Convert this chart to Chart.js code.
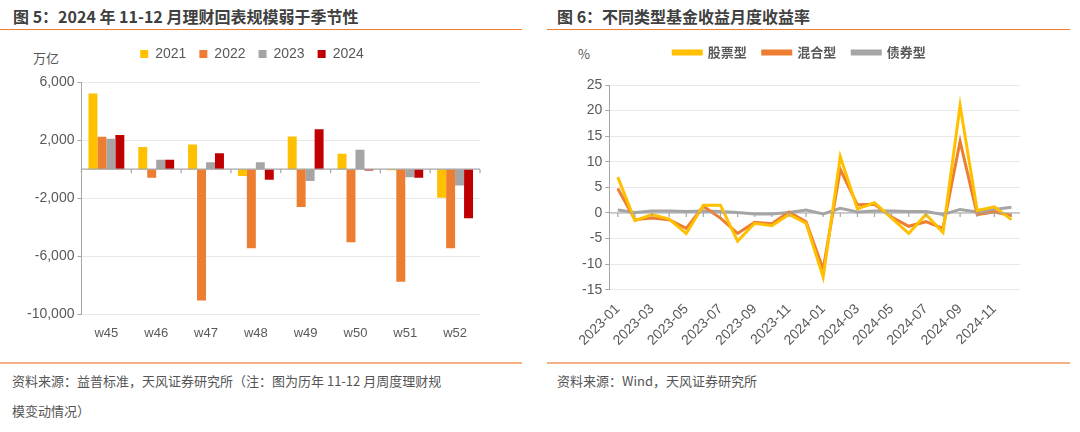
<!DOCTYPE html>
<html><head><meta charset="utf-8">
<script src="https://cdn.jsdelivr.net/npm/chart.js@4"></script>
<style>
body{margin:0;width:1080px;height:432px;background:#fff;position:relative;overflow:hidden;font-family:"Liberation Sans","Noto Sans CJK SC",sans-serif;}
.t{position:absolute;top:4px;font-weight:bold;font-size:16px;color:#404040;font-family:"Noto Sans CJK SC",sans-serif;}
.rule{position:absolute;height:1px;}
.src{position:absolute;font-size:13px;color:#555;font-family:"Noto Sans CJK SC",sans-serif;line-height:30px;}
.unit{position:absolute;font-size:13px;color:#555;font-family:"Noto Sans CJK SC",sans-serif;}
canvas{position:absolute;}
</style></head><body>
<div class="t" style="left:13px">图 5：2024 年 11-12 月理财回表规模弱于季节性</div>
<div class="t" style="left:557px">图 6：不同类型基金收益月度收益率</div>
<div class="rule" style="left:0;top:29px;width:522px;background:#ed7d31"></div>
<div class="rule" style="left:547px;top:29px;width:523px;background:#ed7d31"></div>
<div class="rule" style="left:0;top:362px;width:522px;background:#f4b183;height:2px"></div>
<div class="rule" style="left:547px;top:362px;width:523px;background:#f4b183;height:2px"></div>
<div class="src" style="left:12px;top:366px;width:520px">资料来源：益普标准，天风证券研究所（注：图为历年 11-12 月周度理财规<br>模变动情况）</div>
<div class="src" style="left:557px;top:366px">资料来源：Wind，天风证券研究所</div>
<div class="unit" style="left:33px;top:48px">万亿</div>
<div class="unit" style="left:578px;top:44px">%</div>
<canvas id="c1" style="left:0;top:34px;width:530px;height:310px" width="530" height="310"></canvas>
<canvas id="c2" style="left:545px;top:30px;width:530px;height:322px" width="530" height="322"></canvas>
<script>
const weeks = ["w45","w46","w47","w48","w49","w50","w51","w52"];
const y2021 = [5200,1530,1700,-470,2250,1060,-80,-1970];
const y2022 = [2230,-600,-9050,-5450,-2600,-5030,-7750,-5450];
const y2023 = [2100,650,470,470,-820,1340,-560,-1130];
const y2024 = [2350,650,1100,-730,2750,-100,-590,-3380];
const leftTicks = [-10000,-6000,-2000,2000,6000];

const months = ["2023-01","2023-02","2023-03","2023-04","2023-05","2023-06","2023-07","2023-08","2023-09","2023-10","2023-11","2023-12",
  "2024-01","2024-02","2024-03","2024-04","2024-05","2024-06","2024-07","2024-08","2024-09","2024-10","2024-11","2024-12"];
const stockFund = [7,-1.5,-0.3,-1.2,-4,1.5,1.5,-5.5,-2,-2.5,-0.3,-2,-12.5,11,0.8,2,-1,-4,-0.3,-3.8,21,0.5,1.2,-1.3];
const mixedFund = [4.8,-1.3,-1,-1.3,-3,1.3,-1,-4,-1.8,-2.1,0.2,-1.7,-11,8.5,1.6,1.7,-0.8,-2.6,-1.7,-3,14,-0.3,0.2,-0.5];
const bondFund = [0.6,0.1,0.4,0.4,0.3,0.4,0.3,0.1,-0.2,-0.2,0.1,0.6,-0.2,0.9,0.2,0.4,0.4,0.3,0.3,-0.3,0.7,0.2,0.7,1.1];

const font = {family:"Liberation Sans, Noto Sans CJK SC", size:13};
const bigFont = {family:"Liberation Sans, Noto Sans CJK SC", size:14};
Chart.defaults.color = "#595959";
Chart.defaults.animation = false;

// zero line with category tick marks
const zeroLine = {
  id:"zeroLine",
  afterDatasetsDraw(chart, args, opts) {
    const {ctx, scales:{x,y}} = chart;
    const py = y.getPixelForValue(0);
    ctx.save();
    ctx.strokeStyle = "#a6a6a6"; ctx.lineWidth = 1.2;
    ctx.beginPath(); ctx.moveTo(x.left, py); ctx.lineTo(x.right, py);
    const n = chart.data.labels.length;
    for (let i = 0; i <= n; i++) {
      const px = opts.between ? x.left + (x.right - x.left) * i / n : x.getPixelForValue(i);
      if (opts.between || i < n) { ctx.moveTo(px, py); ctx.lineTo(px, py + 4); }
    }
    ctx.stroke(); ctx.restore();
  }
};

// extra gap under the legend
const legendGap = gap => ({
  id:"legendGap",
  afterInit(chart) {
    const fit = chart.legend.fit;
    chart.legend.fit = function() { fit.call(this); this.height += gap; };
  }
});

new Chart(document.getElementById("c1"), {
  type:"bar",
  data:{labels:weeks, datasets:[
    {label:"2021", data:y2021, backgroundColor:"#ffc000"},
    {label:"2022", data:y2022, backgroundColor:"#ed7d31"},
    {label:"2023", data:y2023, backgroundColor:"#a5a5a5"},
    {label:"2024", data:y2024, backgroundColor:"#c00000"}
  ]},
  options:{
    responsive:false,
    layout:{padding:{left:24,right:50,top:0,bottom:0}},
    datasets:{bar:{categoryPercentage:0.72, barPercentage:1}},
    scales:{
      x:{grid:{display:false}, border:{display:false}, ticks:{font}},
      y:{min:-10000, max:6000,
        afterBuildTicks(s){ s.ticks = leftTicks.map(v => ({value:v})); },
        grid:{color:"#e8e8e8", drawTicks:true, tickLength:4, tickColor:"#a6a6a6"},
        border:{color:"#a6a6a6"},
        ticks:{font:bigFont, callback:v => v.toLocaleString("en-US")}}
    },
    plugins:{
      legend:{position:"top", labels:{boxWidth:8, boxHeight:8, font:bigFont, padding:13}},
      tooltip:{enabled:false},
      zeroLine:{between:true}
    }
  },
  plugins:[zeroLine, legendGap(11)]
});

new Chart(document.getElementById("c2"), {
  type:"line",
  data:{labels:months, datasets:[
    {label:"股票型", data:stockFund, borderColor:"#ffc000", backgroundColor:"#ffc000"},
    {label:"混合型", data:mixedFund, borderColor:"#ed7d31", backgroundColor:"#ed7d31"},
    {label:"债券型", data:bondFund, borderColor:"#a5a5a5", backgroundColor:"#a5a5a5"}
  ]},
  options:{
    responsive:false,
    layout:{padding:{left:34,right:55,top:0,bottom:0}},
    elements:{line:{borderWidth:3, tension:0}, point:{radius:0}},
    scales:{
      x:{offset:true, grid:{display:false}, border:{display:false},
        ticks:{font:bigFont, autoSkip:false, maxRotation:45, minRotation:45,
          callback(v,i){ return i % 2 === 0 ? months[i] : ""; }}},
      y:{min:-15, max:25, ticks:{stepSize:5, font:bigFont},
        grid:{color:"#e8e8e8", tickLength:4, tickColor:"#a6a6a6"},
        border:{color:"#a6a6a6"}}
    },
    plugins:{
      legend:{position:"top", labels:{boxWidth:28, boxHeight:3, font:{family:"Noto Sans CJK SC", size:13, weight:"bold"}, padding:16}},
      tooltip:{enabled:false},
      zeroLine:{between:false}
    }
  },
  plugins:[zeroLine, legendGap(16)]
});
</script>
</body></html>
